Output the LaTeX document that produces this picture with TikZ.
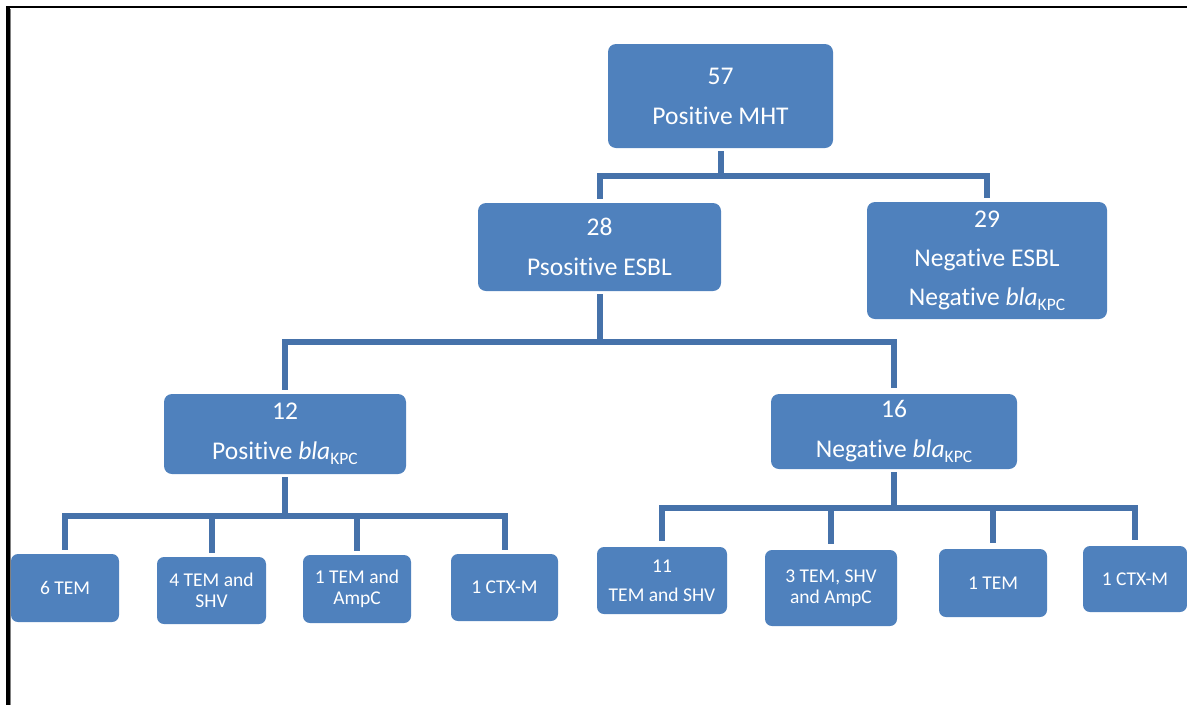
\documentclass[tikz,border=0pt]{standalone}
\usepackage{fontspec}
\setmainfont[Ligatures=NoCommon]{Carlito}
\definecolor{boxblue}{HTML}{4F81BD}
\definecolor{connblue}{HTML}{4672AA}
\newcommand\blakpc{\textit{bla}\raisebox{-5pt}{\fontsize{17.5}{17.5}\selectfont KPC}}
\tikzset{
  bigbox/.style={fill=boxblue, rounded corners=8pt, inner sep=0pt, align=center,
    text=white, font=\fontsize{25.5}{40}\selectfont},
  smallbox/.style={fill=boxblue, rounded corners=7pt, inner sep=0pt, align=center,
    text=white, font=\fontsize{19.5}{21}\selectfont},
  conn/.style={draw=connblue, line width=6pt, shorten <=3pt, shorten >=4pt},
  frame/.style={draw=black}
}
\begin{document}
\begin{tikzpicture}[x=1pt,y=-1pt]
\useasboundingbox (0,0) rectangle (1187,705);
% frame
\draw[frame, line width=2.5pt] (6,7) -- (1187,7);
\draw[frame, line width=3.5pt] (8,6) -- (8,705);
\draw[gray, line width=1pt] (10.5,9) -- (10.5,705);
% level 0
\node[bigbox, minimum width=225pt, minimum height=104pt] (top) at (720.5,96) {57\\Positive MHT};
% level 1
\node[bigbox, minimum width=243pt, minimum height=88pt] (b28) at (599.5,247) {28\\Psositive ESBL};
\node[bigbox, minimum width=240pt, minimum height=117pt, font=\fontsize{25.5}{39}\selectfont] (b29) at (987,260.5) {29\\Negative ESBL\\Negative \blakpc};
% level 2
\node[bigbox, minimum width=242pt, minimum height=80pt] (b12) at (285,434) {12\\Positive \blakpc};
\node[bigbox, minimum width=246pt, minimum height=75pt] (b16) at (894,431.5) {16\\Negative \blakpc};
% level 3 left
\node[smallbox, minimum width=108pt, minimum height=68pt] (l1) at (65,588) {6 TEM};
\node[smallbox, minimum width=109pt, minimum height=67pt] (l2) at (211.5,590.5) {4 TEM and\\SHV};
\node[smallbox, minimum width=108pt, minimum height=68pt] (l3) at (357,589) {1 TEM and\\AmpC};
\node[smallbox, minimum width=107pt, minimum height=67pt] (l4) at (504.5,587.5) {1 CTX-M};
% level 3 right
\node[smallbox, minimum width=130pt, minimum height=67pt] (r1) at (662,580.5) {11\\[8pt]TEM and SHV};
\node[smallbox, minimum width=132pt, minimum height=76pt] (r2) at (831,588) {3 TEM, SHV\\and AmpC};
\node[smallbox, minimum width=108pt, minimum height=68pt] (r3) at (993,583) {1 TEM};
\node[smallbox, minimum width=104pt, minimum height=66pt] (r4) at (1135,579) {1 CTX-M};
% connectors
\draw[conn] (top.south) -- ++(0,28) -| (b28.north);
\draw[conn] (top.south) -- ++(0,28) -| (b29.north);
\draw[conn] (b28.south) -- ++(0,51) -| (b12.north);
\draw[conn, shorten >=6pt] (b28.south) -- ++(0,51) -| (b16.north);
\foreach \c in {l1,l2,l3,l4}{
  \draw[conn] (b12.south) -- ++(0,42) -| (\c.north);
}
\foreach \c in {r1,r2,r3,r4}{
  \draw[conn, shorten >=6pt] (b16.south) -- ++(0,39) -| (\c.north);
}
\end{tikzpicture}
\end{document}
